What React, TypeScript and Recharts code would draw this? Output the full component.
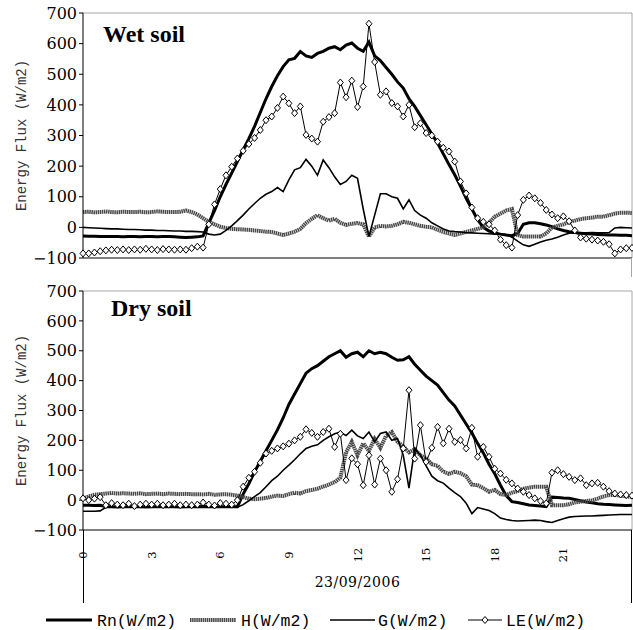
import { Line, LineChart, ReferenceLine, XAxis, YAxis } from 'recharts'

// quarter-hour samples, 0:00 to 24:00 on 23/09/2006
const HOURS = Array.from({ length: 97 }, (_, i) => i / 4)
const HOUR_TICKS = [0, 3, 6, 9, 12, 15, 18, 21]
const FLUX_TICKS = [-100, 0, 100, 200, 300, 400, 500, 600, 700]
const SERIES_NAMES = ['Rn(W/m2)', 'H(W/m2)', 'G(W/m2)', 'LE(W/m2)']

// wet soil
const WET_RN = [
  -28, -29, -29, -30, -30, -30, -30, -31,
  -30, -30, -31, -30, -30, -31, -30, -30,
  -31, -32, -33, -32, -31, -28, 15, 55,
  100, 140, 177, 215, 253, 290, 330, 375,
  420, 460, 495, 525, 547, 552, 574, 560,
  555, 568, 575, 585, 590, 580, 595, 602, 585,
  575, 605, 560, 545, 522, 500, 475, 455,
  420, 395, 365, 335, 305, 275, 240, 205,
  172, 135, 95, 60, 25, 0, -12, -18,
  -22, -25, -27, -20, 10, 15, 15, 12,
  8, 2, -5, -10, -14, -17, -19, -21,
  -22, -23, -24, -25, -25, -26, -26, -27,
]
const WET_H = [
  50, 51, 49, 50, 52, 50, 49, 51,
  50, 50, 51, 49, 50, 52, 51, 50,
  50, 51, 55, 50, 42, 30, 18, 10,
  2, -2, -5, -6, -7, -8, -10, -12,
  -14, -15, -20, -25, -20, -14, -5, 14,
  28, 40, 30, 22, 28, 15, 8, 12, 14,
  10, -30, 0, 5, 3, 5, 10, 18,
  15, 10, 5, 2, 0, -8, -15, -20,
  -25, -20, -15, -10, -5, 0, 15, 35,
  45, 55, 60, -25, -30, -30, -30, -30,
  -20, 0, 5, 10, 18, 22, 27, 30,
  32, 35, 35, 40, 45, 48, 48, 47,
]
const WET_G = [
  0, -1, -2, -3, -4, -5, -5, -6,
  -7, -7, -8, -9, -9, -10, -10, -11,
  -12, -12, -13, -13, -14, -15, -22, -25,
  -22, -10, 5, 22, 40, 60, 78, 95,
  108, 117, 130, 117, 155, 188, 195, 222,
  200, 170, 220, 195, 165, 140, 150, 170, 160,
  60, -30, 40, 110, 110, 100, 95, 60,
  90, 55, 40, 30, 15, 5, -5, -12,
  -14, -15, -17, -18, -19, -20, -21, -22,
  -22, -24, -32, -45, -57, -62, -55, -48,
  -42, -38, -32, -25, -19, -18, -18, -18,
  -17, -18, -18, -17, -2, 0, -1, -2,
]
const WET_LE = [
  -85, -85, -82, -78, -75, -73, -74, -72,
  -74, -72, -73, -70, -72, -74, -71, -72,
  -73, -72, -73, -68, -63, -66, 10, 75,
  125, 170, 198, 225, 250, 272, 292, 318,
  350, 362, 390, 427, 405, 373, 395, 302,
  290, 280, 345, 360, 373, 473, 425, 479, 393,
  460, 665, 540, 433, 444, 406, 395, 362,
  400, 327, 340, 308, 300, 280, 260, 248,
  215, 150, 111, 65, 30, 18, 10, -10,
  -40, -58, -66, 40, 90, 104, 95, 80,
  57, 42, 30, 36, 20, -10, -33, -37,
  -40, -43, -47, -55, -85, -72, -68, -67,
]

// dry soil
const DRY_RN = [
  -17, -17, -18, -17, -22, -22, -23, -22,
  -22, -21, -22, -23, -22, -22, -21, -22,
  -22, -23, -22, -22, -22, -21, -22, -22,
  -22, -22, -22, -22, 20, 55, 95, 130,
  165, 200, 235, 275, 320, 355, 390, 425,
  440, 450, 465, 480, 490, 500, 478, 490, 495,
  480, 500, 490, 495, 490, 478, 468, 470,
  480, 455, 435, 415, 400, 385, 360, 335,
  315, 285, 255, 225, 190, 158, 120, 88,
  50, 15, -5, -8, -12, -16, -18, -20,
  -22, 10, 9, 7, 6, 2, -2, -6,
  -9, -12, -14, -15, -16, -17, -18, -17,
]
const DRY_H = [
  5, 12, 18, 20, 22, 24, 22, 23,
  22, 21, 23, 20, 21, 22, 20, 22,
  21, 20, 21, 20, 20, 19, 21, 18,
  19, 20, 18, 15, 10, 5, 3, 5,
  7, 12, 15, 14, 20, 25, 22, 30,
  34, 38, 45, 52, 60, 75, 160, 195, 150,
  190, 165, 205, 175, 215, 228, 195, 180,
  160, 170, 150, 140, 120, 115, 95, 88,
  95, 90, 80, 52, 50, 40, 28, 34,
  20, 17, 25, 30, 38, 42, 45, 45,
  45, -17, -17, -17, -14, -8, -5, -3,
  -1, 5, 12, 17, 17, 15, 12, 11,
]
const DRY_G = [
  -37, -37, -37, -36, -24, -24, -24, -24,
  -24, -24, -24, -24, -24, -24, -24, -24,
  -24, -24, -24, -24, -24, -24, -24, -24,
  -24, -24, -24, -24, -15, -2, 12, 25,
  45, 65, 80, 100, 117, 135, 155, 173,
  180, 185, 200, 212, 222, 228, 216, 234, 215,
  206, 228, 195, 223, 228, 200, 206, 150,
  40, 173, 150, 115, 80, 65, 57, 40,
  25, 12, -10, -45, -25, -30, -35, -45,
  -60, -65, -68, -70, -69, -68, -67, -68,
  -72, -75, -68, -62, -57, -55, -54, -53,
  -53, -52, -51, -50, -49, -48, -48, -48,
]
const DRY_LE = [
  6, 0, 5, 10, -17, -10, -15, -17,
  -12, -20, -15, -12, -15, -12, -17, -15,
  -12, -17, -15, -17, -15, -8, -15, -18,
  -10, -12, -15, 0, 45, 75, 95, 125,
  156, 165, 173, 180, 189, 200, 212, 237,
  225, 212, 228, 239, 178, 222, 67, 140, 120,
  50, 150, 52, 139, 100, 28, 70, 173,
  368, 139, 251, 128, 175, 245, 190, 239,
  195, 201, 173, 242, 145, 178, 145, 105,
  89, 68, 56, 39, 28, 17, 6, -3,
  -11, 92, 100, 87, 78, 67, 73, 50,
  56, 58, 45, 30, 22, 19, 17, 15,
]

type Row = { hour: number; rn: number; h: number; g: number; le: number }

const toRows = (rn: number[], h: number[], g: number[], le: number[]): Row[] =>
  HOURS.map((hour, i) => ({ hour, rn: rn[i], h: h[i], g: g[i], le: le[i] }))

const wetRows = toRows(WET_RN, WET_H, WET_G, WET_LE)
const dryRows = toRows(DRY_RN, DRY_H, DRY_G, DRY_LE)

const MONO = '"Liberation Mono", monospace'
const SERIF = '"DejaVu Serif", serif'
const H_GRAY = '#484848'
const H_DASH = '1.5 0.6'

const fmtFlux = (v: number) => (v < 0 ? '\u2212' + Math.abs(v) : String(v))

function Diamond(props: any) {
  const { cx, cy } = props
  if (cx == null || cy == null) return null
  return (
    <path
      d={`M${cx},${cy - 3.5}L${cx + 3},${cy}L${cx},${cy + 3.5}L${cx - 3},${cy}Z`}
      fill="#fff"
      stroke="#000"
      strokeWidth={1}
    />
  )
}

function HourTick(props: any) {
  const { x, y, payload } = props
  const cy = y + 23
  return (
    <text
      x={x}
      y={cy}
      transform={`rotate(-90 ${x} ${cy})`}
      textAnchor="middle"
      dominantBaseline="central"
      fontFamily={SERIF}
      fontSize={11.5}
      fill="#000"
    >
      {payload.value}
    </text>
  )
}

function FluxTitle(props: any) {
  const vb = props.viewBox || { x: 0, y: 13, width: 83, height: 245 }
  const cx = vb.x + 22
  const cy = vb.y + vb.height / 2
  return (
    <text
      x={cx}
      y={cy}
      transform={`rotate(-90 ${cx} ${cy})`}
      textAnchor="middle"
      dominantBaseline="central"
      fontFamily={MONO}
      fontSize={14}
      fill="#333"
    >
      Energy Flux (W/m2)
    </text>
  )
}

function DateTitle(props: any) {
  const vb = props.viewBox || { x: 83, y: 252, width: 549, height: 100 }
  return (
    <text
      x={vb.x + vb.width / 2}
      y={vb.y + 57}
      textAnchor="middle"
      fontFamily={SERIF}
      fontSize={14}
      letterSpacing={0.5}
      fill="#000"
    >
      23/09/2006
    </text>
  )
}

function FluxPanel({ data, height, withAxis }: { data: Row[]; height: number; withAxis: boolean }) {
  return (
    <LineChart
      width={633}
      height={height}
      data={data}
      margin={{ top: 13, right: 1, bottom: withAxis ? 0 : 12, left: 0 }}
    >
      <XAxis
        dataKey="hour"
        type="number"
        domain={[0, 24]}
        ticks={HOUR_TICKS}
        interval={0}
        hide={!withAxis}
        height={100}
        tickSize={0}
        tickLine={false}
        axisLine={{ stroke: '#000' }}
        tick={<HourTick />}
        label={<DateTitle />}
      />
      <YAxis
        type="number"
        domain={[-100, 700]}
        ticks={FLUX_TICKS}
        interval={0}
        width={83}
        tickSize={4}
        tickMargin={2}
        tickLine={{ stroke: '#000' }}
        axisLine={{ stroke: '#000' }}
        tick={{ fill: '#000', fontFamily: SERIF, fontSize: 16 }}
        tickFormatter={fmtFlux}
        label={<FluxTitle />}
      />
      <ReferenceLine y={700} stroke="#a6a6a6" />
      <ReferenceLine x={24} stroke="#a6a6a6" />
      {!withAxis && <ReferenceLine y={-100} stroke="#000" />}
      <Line
        dataKey="rn"
        name={SERIES_NAMES[0]}
        type="linear"
        stroke="#000"
        strokeWidth={3}
        dot={false}
        activeDot={false}
        isAnimationActive={false}
      />
      <Line
        dataKey="h"
        name={SERIES_NAMES[1]}
        type="linear"
        stroke={H_GRAY}
        strokeWidth={4}
        strokeDasharray={H_DASH}
        dot={false}
        activeDot={false}
        isAnimationActive={false}
      />
      <Line
        dataKey="g"
        name={SERIES_NAMES[2]}
        type="linear"
        stroke="#000"
        strokeWidth={1.6}
        dot={false}
        activeDot={false}
        isAnimationActive={false}
      />
      <Line
        dataKey="le"
        name={SERIES_NAMES[3]}
        type="linear"
        stroke="#000"
        strokeWidth={1}
        dot={<Diamond />}
        activeDot={false}
        isAnimationActive={false}
      />
    </LineChart>
  )
}

export default function App() {
  return (
    <div style={{ position: 'relative', width: 633, height: 630, background: '#fff' }}>
      <style>{'body{margin:0}'}</style>
      <div style={{ position: 'absolute', left: 0, top: 0 }}>
        <FluxPanel data={wetRows} height={270} withAxis={false} />
      </div>
      <div style={{ position: 'absolute', left: 0, top: 278 }}>
        <FluxPanel data={dryRows} height={352} withAxis />
      </div>
      <svg
        width={633}
        height={630}
        style={{ position: 'absolute', left: 0, top: 0, pointerEvents: 'none' }}
      >
        <text x={103} y={42} fontFamily='"Liberation Serif", serif' fontWeight="bold" fontSize={24} fill="#000">
          Wet soil
        </text>
        <text x={111} y={316} fontFamily='"Liberation Serif", serif' fontWeight="bold" fontSize={24} fill="#000">
          Dry soil
        </text>
        {/* frame stubs below the axes */}
        <line x1={631.5} y1={258} x2={631.5} y2={277} stroke="#a6a6a6" />
        <line x1={83.5} y1={530} x2={83.5} y2={603} stroke="#000" />
        <line x1={631.5} y1={530} x2={631.5} y2={603} stroke="#000" />
        {/* legend */}
        <g fontFamily={MONO} fontSize={16.5} fill="#000">
          <line x1={46} y1={620} x2={92} y2={620} stroke="#000" strokeWidth={3} />
          <text x={97} y={626}>{SERIES_NAMES[0]}</text>
          <line x1={190} y1={620} x2={236} y2={620} stroke={H_GRAY} strokeWidth={4} strokeDasharray={H_DASH} />
          <text x={241} y={626}>{SERIES_NAMES[1]}</text>
          <line x1={330} y1={620} x2={375} y2={620} stroke="#000" strokeWidth={1.6} />
          <text x={378} y={626}>{SERIES_NAMES[2]}</text>
          <line x1={468} y1={620} x2={502} y2={620} stroke="#000" strokeWidth={1} />
          <Diamond cx={485} cy={620} />
          <text x={506} y={626}>{SERIES_NAMES[3]}</text>
        </g>
      </svg>
    </div>
  )
}
